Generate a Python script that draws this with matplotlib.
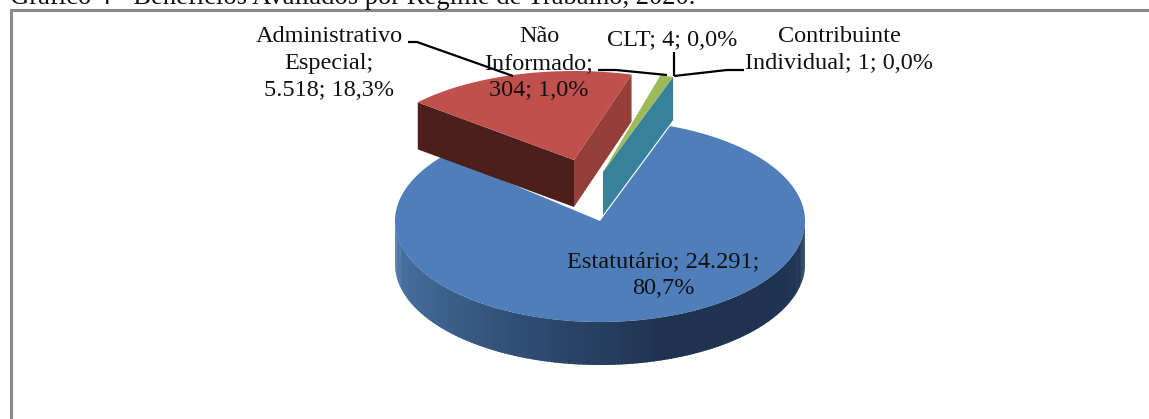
import numpy as np
import matplotlib
matplotlib.use('Agg')
import matplotlib.pyplot as plt
from matplotlib.patches import Polygon, Rectangle
from matplotlib.colors import LinearSegmentedColormap

plt.rcParams['font.family'] = ['Liberation Serif', 'DejaVu Serif']

# data
names = ['Estatutário', 'Administrativo Especial', 'Não Informado', 'CLT', 'Contribuinte Individual']
values = [24291, 5518, 304, 4, 1]
top_colors = ['#4f7eba', '#bf504d', '#9bbb59', '#8064a2', '#4bacc6']
title = 'Gráfico 4 - Benefícios Avaliados por Regime de Trabalho, 2020.'
labels = [
    'Estatutário; 24.291;\n80,7%',
    'Administrativo\nEspecial;\n5.518; 18,3%',
    'Não\nInformado;\n304; 1,0%',
    'CLT; 4; 0,0%',
    'Contribuinte\nIndividual; 1; 0,0%',
]

W, H = 1149, 419
START = 70.0   # where the first slice starts, going clockwise
# centre x, centre y, x radius, y radius, height
geom = [
    (600, 221, 205, 101, 43),
    (574, 160, 205, 89, 47),
    (603, 172, 205, 101, 43),
    (603, 172, 205, 101, 43),
    (603, 172, 205, 101, 43),
]

def rim(g, a, b, n=200, drop=0):
    t = np.radians(np.linspace(a, b, n))
    return np.c_[g[0] + g[2] * np.cos(t), g[1] - g[3] * np.sin(t) + drop]

def quad(g, a):
    p = rim(g, a, a, 1)[0]
    return [(g[0], g[1]), p, (p[0], p[1] + g[4]), (g[0], g[1] + g[4])]

fig = plt.figure(figsize=(W / 100, H / 100), dpi=100)
ax = fig.add_axes([0, 0, 1, 1])
ax.set_xlim(0, W)
ax.set_ylim(H, 0)
ax.axis('off')

# frame and the caption cut by the top of the picture
ax.add_patch(Rectangle((10.5, 10.5), W + 20, H + 20, fc='white', ec='#8a8a8a', lw=2.2, zorder=0))
ax.text(10, 4, title, fontsize=19.2, color='#111111', ha='left', va='baseline', zorder=1)

shares = np.array(values) / sum(values) * 360
ends = START - np.cumsum(shares)
starts = ends + shares

# blue slice: rim with a gradient, then its top
g = geom[0]
cmap = LinearSegmentedColormap.from_list('rim', ['#4a75a8', '#3f6490', '#2e4a70', '#1f3350', '#1f3350', '#22395a'])
ts = np.linspace(180, 360, 181)
for i in range(180):
    up = rim(g, ts[i], ts[i + 1] + 0.5, 4)
    low = rim(g, ts[i + 1] + 0.5, ts[i], 4, drop=g[4])
    ax.add_patch(Polygon(np.r_[up, low], fc=cmap(i / 179), ec='none', zorder=2))
ax.add_patch(Polygon(np.r_[[g[:2]], rim(g, starts[0], ends[0], 400)], fc=top_colors[0], ec='none', zorder=3))

# red slice, pulled out
g = geom[1]
ax.add_patch(Polygon(quad(g, starts[1]), fc='#4d1f1b', ec='none', zorder=4))
ax.add_patch(Polygon(quad(g, ends[1]), fc='#953f3b', ec='none', zorder=4))
ax.add_patch(Polygon(np.r_[[g[:2]], rim(g, starts[1], ends[1])], fc=top_colors[1], ec='none', zorder=5))

# the three small slices, only the last cut face shows
for i in [2, 3, 4]:
    g = geom[i]
    ax.add_patch(Polygon(np.r_[[g[:2]], rim(g, starts[i], ends[i], 20)], fc=top_colors[i], ec='none', zorder=6))
g = geom[4]
ax.add_patch(Polygon(quad(g, ends[4]), fc='#37819b', ec='none', zorder=5))

# labels
label_pos = [(663, 251), (329, 26), (539, 26), (672, 30), (839, 26)]
for lab, (x, y) in zip(labels, label_pos):
    ax.text(x, y, lab, fontsize=17.5, color='#111111', ha='center', va='top', linespacing=1.38, zorder=8)

# leader lines
leaders = [
    ([408, 417, 513], [42, 42, 76]),
    ([598, 616, 667], [70, 70, 75]),
    ([674, 674], [52, 76]),
    ([744, 727, 674], [70, 70, 76]),
]
for xs, ys in leaders:
    ax.plot(xs, ys, color='black', lw=1.6, zorder=7, solid_capstyle='butt')

fig.savefig('out.png', dpi=100)
